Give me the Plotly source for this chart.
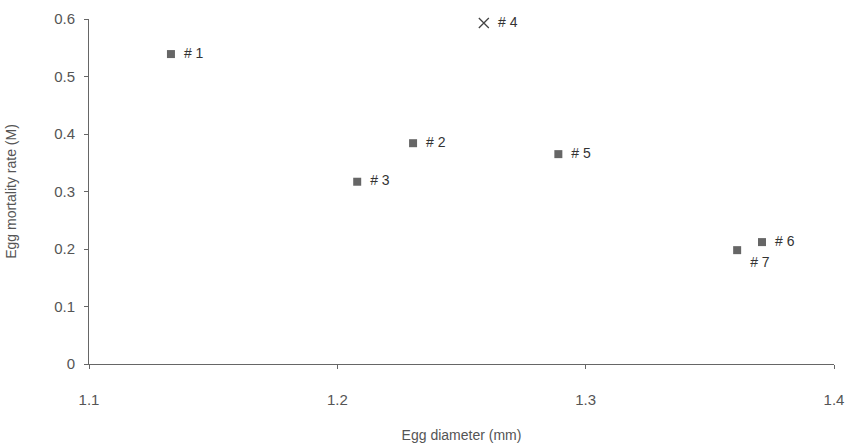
import plotly.graph_objects as go

labels = ["# 1", "# 2", "# 3", "# 5", "# 6", "# 7"]
egg_diameter = [1.133, 1.2305, 1.208, 1.289, 1.371, 1.361]
mortality = [0.539, 0.384, 0.317, 0.365, 0.212, 0.198]
text_pos = ["middle right", "middle right", "middle right", "middle right", "middle right", "bottom right"]

out_label = ["# 4"]
out_diameter = [1.259]
out_mortality = [0.593]

x_ticks = [1.1, 1.2, 1.3, 1.4]
y_ticks = [0, 0.1, 0.2, 0.3, 0.4, 0.5, 0.6]

lab_font = dict(family="Liberation Sans, Arial", size=14, color="#333")
fig = go.Figure()
fig.add_trace(go.Scatter(
    x=egg_diameter, y=mortality, mode="markers+text", text=["\u2002" + t for t in labels],
    textposition=text_pos,
    marker=dict(symbol="square", size=8, color="#666"),
    textfont=lab_font, cliponaxis=False, showlegend=False))
fig.add_trace(go.Scatter(
    x=out_diameter, y=out_mortality, mode="markers+text", text=["\u2002" + t for t in out_label],
    textposition="middle right",
    marker=dict(symbol="x-thin-open", size=10, color="#444", line=dict(width=1.3, color="#444")),
    textfont=lab_font, cliponaxis=False, showlegend=False))

axis_font = dict(family="Liberation Sans, Arial", size=15, color="#555")
title_font = dict(family="Liberation Sans, Arial", size=14, color="#555")
fig.update_layout(
    width=850, height=446,
    margin=dict(l=89, r=16, t=19, b=82),
    paper_bgcolor="white", plot_bgcolor="white",
    xaxis=dict(range=[1.1, 1.4], tickvals=x_ticks, ticktext=["1.1", "1.2", "1.3", "1.4"],
               showgrid=False, zeroline=False, showline=True, linecolor="#666", linewidth=1,
               ticks="outside", ticklen=4, tickcolor="#666", tickfont=axis_font,
               ticklabelstandoff=18, automargin=False,
               title=dict(text="Egg diameter (mm)", font=title_font, standoff=23)),
    yaxis=dict(range=[0, 0.6], tickvals=y_ticks, ticktext=["0", "0.1", "0.2", "0.3", "0.4", "0.5", "0.6"],
               showgrid=False, zeroline=False, showline=True, linecolor="#666", linewidth=1,
               ticks="outside", ticklen=4, tickcolor="#666", tickfont=axis_font,
               ticklabelstandoff=6, automargin=False,
               title=dict(text="Egg mortality rate (M)", font=title_font, standoff=34)),
)
fig.write_html("out.html")
